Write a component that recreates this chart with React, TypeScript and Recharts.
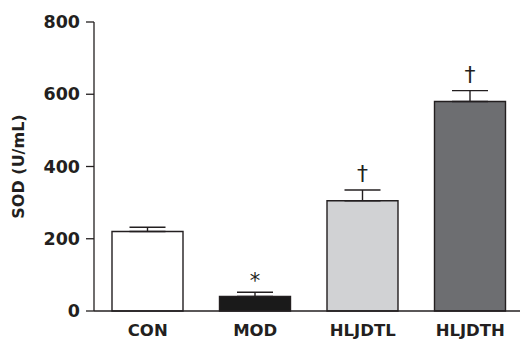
import { BarChart, Bar, XAxis, YAxis, ErrorBar, LabelList, Cell } from 'recharts'

const groups = ['CON', 'MOD', 'HLJDTL', 'HLJDTH']
const sodValues = [220, 40, 305, 580]
const sodErrors = [12, 12, 30, 30]
const marks = ['', '*', '†', '†']
const yTicks = [0, 200, 400, 600, 800]

const fills = ['#ffffff', '#1a1a1a', '#d1d2d4', '#6d6e71']
const ink = '#231f20'
const font = '"DejaVu Sans", sans-serif'

const chartData = groups.map((name, i) => ({
  name,
  sod: sodValues[i],
  err: [0, sodErrors[i]],
  mark: marks[i],
}))

// star / dagger sits just above the error cap
function MarkLabel(props: any) {
  const { x, y, width, height, index } = props
  const mark = marks[index]
  if (!mark) return null
  const pxPerUnit = height / sodValues[index]
  const capY = y - sodErrors[index] * pxPerUnit
  return (
    <text
      x={x + width / 2}
      y={capY - (mark === '*' ? 4 : 9)}
      textAnchor="middle"
      fontFamily={font}
      fontSize={mark === '*' ? 21 : 22}
      fill={ink}
    >
      {mark}
    </text>
  )
}

function YLabel(props: any) {
  const { viewBox } = props
  const cy = viewBox.y + viewBox.height / 2
  const cx = 18
  return (
    <text
      x={cx}
      y={cy}
      transform={`rotate(-90, ${cx}, ${cy})`}
      textAnchor="middle"
      dominantBaseline="central"
      fontFamily={font}
      fontWeight="bold"
      fontSize={16}
      fill={ink}
    >
      SOD (U/mL)
    </text>
  )
}

export default function App() {
  return (
    <div style={{ position: 'absolute', left: 0, top: 0, width: 520, height: 339, overflow: 'hidden', background: '#fff' }}>
      <BarChart
        width={524}
        height={339}
        data={chartData}
        margin={{ top: 22, right: 0, bottom: 0, left: 0 }}
      >
        <XAxis
          dataKey="name"
          height={28}
          stroke={ink}
          strokeWidth={1.3}
          tickLine={false}
          tickSize={0}
          tickMargin={13}
          tick={{ fill: ink, fontSize: 16.5, fontWeight: 'bold', fontFamily: font }}
        />
        <YAxis
          width={94}
          domain={[0, 800]}
          ticks={yTicks}
          interval={0}
          stroke={ink}
          strokeWidth={1.3}
          tickSize={8}
          tickMargin={6}
          tick={{ fill: ink, fontSize: 17.5, fontWeight: 'bold', fontFamily: font }}
          label={<YLabel />}
        />
        <Bar dataKey="sod" barSize={71} stroke={ink} strokeWidth={1.4} isAnimationActive={false}>
          {chartData.map((entry, index) => (
            <Cell key={`cell-${index}`} fill={fills[index]} />
          ))}
          <ErrorBar dataKey="err" direction="y" width={18} stroke={ink} strokeWidth={1.4} />
          <LabelList dataKey="mark" content={<MarkLabel />} />
        </Bar>
      </BarChart>
    </div>
  )
}
